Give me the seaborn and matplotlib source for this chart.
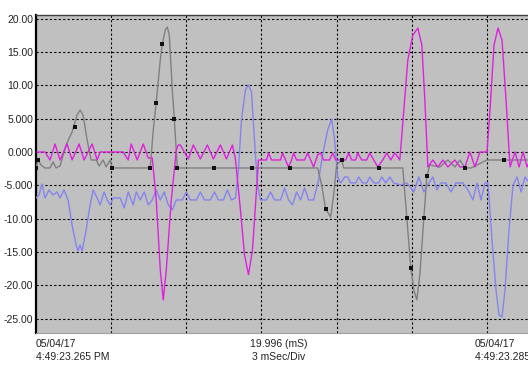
import matplotlib
matplotlib.use("Agg")
import matplotlib.pyplot as plt
import seaborn as sns
import pandas as pd

# time axis in ms
mag_t = [0, 0.36, 0.56, 0.76, 0.96, 1.24, 1.44, 1.72, 1.92, 2.24, 2.44, 2.56, 3.48, 3.68, 3.80, 4.04, 4.28, 4.48, 4.64,
         4.8, 4.96, 5.08, 5.2, 5.4, 5.6, 5.68, 5.76, 6.08, 6.28, 6.56, 6.84, 7.08, 7.36, 7.6, 7.84, 7.96,
         8.16, 8.32, 8.48, 8.64, 8.8, 8.88, 9.2, 9.28, 9.4, 9.76, 9.84, 9.96, 10.08, 10.2, 10.28, 10.4, 10.72,
         10.84, 10.96, 11.08, 11.24, 11.36, 11.48, 11.72, 11.84, 11.96, 12.36, 12.48, 12.6, 12.76, 12.84, 13.0,
         13.2, 13.32, 13.48, 13.64, 13.84, 14.0, 14.16, 14.32, 14.52, 14.68, 14.84, 15.04, 15.24, 15.4, 15.52,
         15.64, 15.84, 16.04, 16.24, 16.44, 16.72, 16.92, 17.12, 17.32, 17.52, 17.72, 17.88, 18.0, 18.12, 18.28,
         18.44, 18.6, 18.76, 18.92, 19.12, 19.28, 19.44, 19.6, 19.8]
mag_v = [0, 0, -1.2, 1.2, -1.2, 1.2, -1.2, 1.2, -1.2, 1.2, -1.2, 0, 0, -1.2, 1.2, -1.2, 1.2, -0.9, -0.9,
         -7.2, -17.7, -22.2, -17.7, -7.2, 0.3, 1.05, 1.05, -1.05, 1.05, -1.05, 1.05, -1.05, 1.05, -1.05, 1.05, -1.05,
         -8.7, -15.4, -18.4, -14.7, -5.7, -1.2, -1.2, -0.15, -1.2, -1.2, -0.15, -1.2, -2.25, -1.2, -0.15, -1.2, -1.2,
         -0.15, -1.2, -2.25, -0.45, -0.15, -1.2, -1.2, -0.15, -1.2, -1.2, -0.15, -1.2, -1.2, -0.15, -1.2,
         -1.2, -0.15, -1.2, -2.25, -1.2, -0.15, -1.2, -0.15, -1.2, 6.3, 13.8, 17.55, 18.6, 16.05, 7.8,
         -2.25, -1.2, -2.25, -1.2, -2.25, -1.2, -2.25, -2.25, 0, -2.25, 0, 0, 0, 6.3, 16.05,
         18.6, 16.8, 7.8, -2.25, 0, -2.25, 0, -2.25, -0.45]

gray_t = [0, 0.08, 0.2, 0.36, 0.56, 0.68, 0.8, 0.96, 1.2, 1.44, 1.64, 1.76, 1.88, 2.04, 2.2, 2.4, 2.52, 2.68, 2.8,
          2.96, 3.04, 4.56, 4.68, 4.8, 4.96, 5.04, 5.16, 5.24, 5.32, 5.44, 5.52, 5.64, 11.24, 11.4, 11.56, 11.76,
          11.88, 12.0, 12.2, 12.28, 14.64, 14.8, 14.96, 15.08, 15.2, 15.32, 15.48, 15.6, 15.72, 16.12, 16.44,
          16.72, 16.92, 17.12, 17.36, 18.0, 20.0]
gray_v = [-2.4, -1.2, -1.95, -2.4, -2.4, -1.5, -2.4, -2.1, 1.05, 3.0, 5.55, 6.3, 5.55, 1.8, -1.2, -1.2, -2.1, -1.2, -2.25,
          -1.2, -2.4, -2.4, 3.3, 7.5, 13.8, 16.2, 18.3, 18.75, 17.55, 9.3, 4.95, -2.4, -2.4, -4.95, -8.55, -9.75,
          -6.45, -1.95, -1.2, -2.4, -2.4, -9.9, -17.4, -20.7, -22.2, -18.45, -9.9, -3.6, -1.95, -2.25, -1.2,
          -2.25, -1.2, -2.4, -2.4, -1.2, -1.2]

mark_t = [0, 0.08, 1.56, 3.04, 4.56, 4.8, 5.04, 5.52, 5.64, 7.12, 8.64, 10.12, 11.56, 12.2, 13.68,
          14.8, 14.96, 15.48, 15.6, 17.12, 18.68]
mark_v = [-2.4, -1.2, 3.75, -2.4, -2.4, 7.4, 16.2, 5.0, -2.4, -2.4, -2.4, -2.4, -8.6, -1.2, -2.4,
          -9.9, -17.4, -9.9, -3.6, -2.4, -1.2]

blue_t = [0, 0.12, 0.24, 0.36, 0.52, 0.68, 0.84, 0.96, 1.12, 1.28, 1.44, 1.6, 1.68, 1.76, 1.84, 2.0, 2.16, 2.28,
          2.44, 2.56, 2.72, 2.84, 2.96, 3.08, 3.36, 3.52, 3.68, 3.88, 4.0, 4.16, 4.32, 4.48, 4.64, 4.8, 4.96,
          5.12, 5.28, 5.44, 5.6, 5.84, 6.0, 6.16, 6.4, 6.56, 6.72, 6.96, 7.12, 7.28, 7.48, 7.64, 7.8, 7.96,
          8.08, 8.2, 8.36, 8.48, 8.6, 8.72, 8.84, 8.96, 9.2, 9.36, 9.52, 9.76, 9.92, 10.08, 10.24, 10.4, 10.56,
          10.72, 10.88, 11.08, 11.28, 11.44, 11.64, 11.8, 11.92, 12.04, 12.16, 12.32, 12.44, 12.56, 12.76,
          12.88, 13.04, 13.2, 13.32, 13.48, 13.68, 13.8, 13.96, 14.12, 14.28, 14.56, 14.8, 14.96, 15.08,
          15.28, 15.48, 15.68, 15.84, 16.0, 16.16, 16.36, 16.56, 16.76, 17.04, 17.24, 17.44, 17.6, 17.76,
          17.92, 18.04, 18.2, 18.36, 18.48, 18.6, 18.72, 18.88, 19.04, 19.2, 19.36, 19.52, 19.68, 19.84]
blue_v = [-6.9, -6.45, -4.8, -6.9, -5.7, -6.45, -6.0, -6.9, -5.7, -7.2, -10.95, -13.95, -14.85, -13.95, -14.85,
          -11.7, -7.95, -5.7, -6.9, -7.95, -6.0, -7.2, -7.95, -6.9, -6.9, -8.4, -6.0, -7.95, -6.0, -7.2, -6.0,
          -7.95, -7.2, -5.7, -7.2, -6.0, -7.95, -8.7, -7.2, -7.2, -6.0, -7.2, -7.2, -6.0, -7.2, -7.2, -6.0,
          -7.2, -7.2, -5.7, -7.2, -6.9, -2.7, 4.8, 9.3, 10.05, 9.0, 1.8, -4.95, -7.2, -7.2, -6.0, -7.2, -7.2,
          -5.4, -7.2, -7.95, -6.0, -7.2, -5.4, -7.2, -7.2, -4.2, -0.45, 3.3, 4.95, 1.8, -3.75, -4.65, -3.75,
          -3.75, -4.65, -4.65, -3.75, -4.65, -4.65, -3.75, -4.65, -4.65, -3.75, -4.65, -3.75, -4.65, -4.95,
          -4.65, -5.4, -6.0, -3.75, -6.0, -4.65, -3.75, -5.7, -4.65, -4.65, -6.0, -4.65, -4.65, -5.7, -7.2,
          -4.65, -7.2, -4.65, -4.65, -13.2, -20.7, -24.45, -24.75, -20.7, -11.7, -4.95, -3.75, -6.0, -3.75,
          -4.65, -4.65]

ytick_vals = [-25, -20, -15, -10, -5, 0, 5, 10, 15, 20]
ytick_labels = ["-25.00", "-20.00", "-15.00", "-10.00", "-5.000", "0.000", "5.000", "10.00", "15.00", "20.00"]
xgrid_vals = [3, 6, 9, 12, 15, 18]

sns.set_theme(style="white")
plt.rcParams['font.family'] = ['Liberation Sans', 'DejaVu Sans']

fig = plt.figure(figsize=(5.28, 3.65), dpi=100)
# plot area runs past the right edge of the picture, like the original
ax = fig.add_axes([36 / 528, 32 / 365, 501 / 528, 318 / 365])
ax.set_facecolor("#C0C0C0")

for v in ytick_vals:
    ax.axhline(v, color="black", lw=0.8, ls=(0, (2, 2)), zorder=1)
for t in xgrid_vals:
    ax.axvline(t, color="black", lw=0.8, ls=(0, (2, 2)), zorder=1)

df_mag = pd.DataFrame({"t": mag_t, "v": mag_v})
df_gray = pd.DataFrame({"t": gray_t, "v": gray_v})
df_blue = pd.DataFrame({"t": blue_t, "v": blue_v})
df_mark = pd.DataFrame({"t": mark_t, "v": mark_v})

sns.lineplot(data=df_blue, x="t", y="v", color="#8484F0", lw=1.0, estimator=None, sort=False, ax=ax, zorder=3)
sns.lineplot(data=df_gray, x="t", y="v", color="#808080", lw=1.0, estimator=None, sort=False, ax=ax, zorder=4)
sns.lineplot(data=df_mag, x="t", y="v", color="#E020E0", lw=1.0, estimator=None, sort=False, ax=ax, zorder=5)
sns.scatterplot(data=df_mark, x="t", y="v", color="#111111", marker="s", s=10, linewidth=0, ax=ax, zorder=6)

ax.set_xlim(0, 19.996)
ax.set_ylim(-27.17, 20.56)
ax.set_xticks([])
ax.set_yticks(ytick_vals)
ax.set_yticklabels(ytick_labels)
ax.tick_params(axis="y", length=0, pad=2, labelsize=7.5, labelcolor="#222222")
ax.set_xlabel("")
ax.set_ylabel("")

ax.spines["left"].set_color("black")
ax.spines["left"].set_linewidth(1.6)
ax.spines["top"].set_color("#404040")
ax.spines["top"].set_linewidth(1.0)
ax.spines["bottom"].set_color("#A0A0A0")
ax.spines["bottom"].set_linewidth(0.8)
ax.spines["right"].set_visible(False)

fs = 7.5
fig.text(36 / 528, 1 - 344 / 365, "05/04/17", ha="left", va="center", fontsize=fs, color="#222222")
fig.text(36 / 528, 1 - 357 / 365, "4:49:23.265 PM", ha="left", va="center", fontsize=fs, color="#222222")
fig.text(279 / 528, 1 - 344 / 365, "19.996 (mS)", ha="center", va="center", fontsize=fs, color="#222222")
fig.text(279 / 528, 1 - 357 / 365, "3 mSec/Div", ha="center", va="center", fontsize=fs, color="#222222")
fig.text(475 / 528, 1 - 344 / 365, "05/04/17", ha="left", va="center", fontsize=fs, color="#222222")
fig.text(475 / 528, 1 - 357 / 365, "4:49:23.285 PM", ha="left", va="center", fontsize=fs, color="#222222")

fig.savefig("out.png", dpi=100)
